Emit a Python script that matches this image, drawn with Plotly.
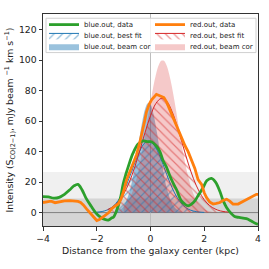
import plotly.graph_objects as go

# ---- data ----
blue_data_x = [-4.0, -3.8, -3.6, -3.4, -3.2, -3.0, -2.85, -2.7, -2.55, -2.4, -2.2, -2.05, -1.9, -1.7, -1.55,
               -1.45, -1.38, -1.28, -1.2, -1.1, -1.02, -0.92, -0.83, -0.65, -0.46, -0.27, -0.1, 0.04, 0.2,
               0.35, 0.47, 0.59, 0.7, 0.78, 0.88, 0.97, 1.06, 1.15, 1.28, 1.4, 1.52, 1.65, 1.8, 1.96, 2.1,
               2.27, 2.42, 2.58, 2.7, 2.83, 3.0, 3.13, 3.3, 3.57, 3.75, 3.9, 4.0]
blue_data_y = [10.5, 10.3, 9.5, 10, 12, 15, 17.5, 18.5, 15, 9.5, 4, 0.2, -2.5, -4.5, -4.8,
               -3.5, -3, 0.5, 4.5, 11, 18.5, 25, 30, 39, 45, 47, 46.5, 46.5, 44,
               40, 34, 30, 25, 21.7, 18, 15, 11, 7.7, 5.5, 4.5, 5.5, 7.7, 12, 16.5, 21,
               22.4, 20, 14, 8, 3.4, -0.5, -2.6, -3.2, -4, -5.5, -7, -7.7]

red_data_x = [-4.0, -3.85, -3.7, -3.55, -3.4, -3.2, -3.0, -2.85, -2.7, -2.6, -2.5, -2.38, -2.2, -2.0, -1.9,
              -1.8, -1.7, -1.55, -1.45, -1.3, -1.2, -1.1, -1.0, -0.9, -0.77, -0.65, -0.52, -0.4, -0.33,
              -0.22, -0.15, -0.05, 0.04, 0.13, 0.22, 0.3, 0.4, 0.5, 0.6, 0.72, 0.85, 0.97, 1.1, 1.28, 1.4,
              1.52, 1.65, 1.77, 1.9, 2.0, 2.08, 2.2, 2.33, 2.45, 2.58, 2.7, 2.83, 2.95, 3.07, 3.26, 3.4,
              3.57, 3.75, 3.94, 4.0]
red_data_y = [6.6, 6.8, 7.5, 6.5, 7.2, 7.7, 7.8, 7.7, 7.3, 6.6, 5, 2.4, -1.5, -5.2, -4.5,
              -3, -2, 0, 2.4, 4.5, 5.6, 8.8, 14, 21, 27, 32, 38, 46, 51,
              60, 66, 71, 74, 76, 77.6, 77, 76.5, 75.5, 72.5, 68, 62, 57, 51, 44, 40,
              34.6, 29, 21.7, 18.5, 13, 10, 7, 5.6, 6, 6.6, 8, 8.8, 7.5, 5.6, 5.6, 7,
              8.8, 10.5, 12, 12]

blue_fit_x = [-2.0, -1.8, -1.6, -1.4, -1.2, -1.0, -0.8, -0.6, -0.4, -0.2, 0.0, 0.2, 0.4, 0.6, 0.8,
              1.0, 1.2, 1.4, 1.6, 1.8, 2.0]
blue_fit_y = [0.3, 0.7, 1.8, 4.0, 8.0, 14.1, 22.4, 31.8, 40.4, 45.9, 46.7, 42.5, 34.6, 25.2, 16.4,
              9.6, 5.0, 2.3, 1.0, 0.4, 0.1]

red_fit_x = [-1.6, -1.4, -1.2, -1.0, -0.8, -0.6, -0.4, -0.2, 0.0, 0.2, 0.4, 0.6, 0.8, 1.0, 1.2,
             1.4, 1.6, 1.8, 2.0, 2.2, 2.4, 2.6, 2.8, 3.0]
red_fit_y = [1.9, 3.8, 7.1, 12.2, 19.5, 29.2, 40.7, 52.7, 63.6, 71.6, 74.9, 73.1, 66.4, 56.2, 44.3,
             32.5, 22.2, 14.2, 8.4, 4.6, 2.4, 1.1, 0.5, 0.2]

blue_beam_x = [-1.4, -1.2, -1.0, -0.8, -0.7, -0.6, -0.5, -0.4, -0.3, -0.2, -0.1, 0.0, 0.1, 0.2, 0.3,
               0.4, 0.5, 0.6, 0.8, 1.0, 1.2]
blue_beam_y = [0.2, 1.1, 4.2, 12.5, 19.5, 28.6, 39.2, 50.3, 60.5, 68.1, 71.8, 70.9, 65.5, 56.7, 45.9,
               34.8, 24.7, 16.4, 6.0, 1.7, 0.4]

red_beam_x = [-1.0, -0.8, -0.6, -0.4, -0.2, -0.1, 0.0, 0.1, 0.2, 0.3, 0.4, 0.5, 0.6, 0.7, 0.8,
              0.9, 1.0, 1.1, 1.2, 1.4, 1.6, 1.8, 2.0, 2.2, 2.4]
red_beam_y = [3.5, 8.3, 17.2, 31.6, 51.0, 61.7, 72.4, 82.3, 90.5, 96.5, 99.6, 99.6, 96.5, 90.5, 82.3,
              72.4, 61.7, 51.0, 40.8, 23.7, 12.1, 5.5, 2.2, 0.8, 0.2]

noise_low = 9.2      # inner grey band
noise_high = 26.6    # outer grey band
x_range = [-4, 4]
y_range = [-8.8, 130.3]
x_ticks = [-4, -2, 0, 2, 4]
y_ticks = [0, 20, 40, 60, 80, 100, 120]

names = ["blue.out, data", "red.out, data", "blue.out, best fit", "red.out, best fit",
         "blue.out, beam cor", "red.out, beam cor"]

C_BLUE = "#1f77b4"
C_RED = "#d62728"
C_GREEN = "#2ca02c"
C_ORANGE = "#ff7f0e"
FONT = "DejaVu Sans"

fig = go.Figure()

# beam-corrected fills
fig.add_trace(go.Scatter(x=blue_beam_x, y=blue_beam_y, mode="lines", fill="tozeroy",
                         line=dict(width=0, color="rgba(31,119,180,0.45)", shape="spline"),
                         fillcolor="rgba(31,119,180,0.45)", name=names[4], legend="legend5"))
fig.add_trace(go.Scatter(x=red_beam_x, y=red_beam_y, mode="lines", fill="tozeroy",
                         line=dict(width=0, color="rgba(214,39,40,0.25)", shape="spline"),
                         fillcolor="rgba(214,39,40,0.25)", name=names[5], legend="legend6"))
# best fits, hatched
fig.add_trace(go.Scatter(x=blue_fit_x, y=blue_fit_y, mode="lines", fill="tozeroy",
                         line=dict(width=1, color=C_BLUE, shape="spline"),
                         fillcolor="rgba(0,0,0,0)",
                         fillpattern=dict(shape="/", fgcolor=C_BLUE, bgcolor="rgba(0,0,0,0)",
                                          size=6, solidity=0.2),
                         name=names[2], legend="legend3"))
fig.add_trace(go.Scatter(x=red_fit_x, y=red_fit_y, mode="lines", fill="tozeroy",
                         line=dict(width=1, color=C_RED, shape="spline"),
                         fillcolor="rgba(0,0,0,0)",
                         fillpattern=dict(shape="\\", fgcolor=C_RED, bgcolor="rgba(0,0,0,0)",
                                          size=6, solidity=0.2),
                         name=names[3], legend="legend4"))
# data
fig.add_trace(go.Scatter(x=blue_data_x, y=blue_data_y, mode="lines",
                         line=dict(width=2.8, color=C_GREEN, shape="spline"),
                         name=names[0], legend="legend"))
fig.add_trace(go.Scatter(x=red_data_x, y=red_data_y, mode="lines",
                         line=dict(width=2.8, color=C_ORANGE),
                         name=names[1], legend="legend2"))

# plot area in px: left 43, right 258, top 10, bottom 226
col_x = [0.0047, 0.4977]
row_y = [0.950, 0.899, 0.848]
leg_common = dict(bgcolor="rgba(0,0,0,0)", borderwidth=0, xanchor="left", yanchor="middle",
                  font=dict(family=FONT, size=7, color="#222"))
layout_legends = {}
keys = ["legend", "legend2", "legend3", "legend4", "legend5", "legend6"]
for i, k in enumerate(keys):
    layout_legends[k] = dict(x=col_x[i % 2], y=row_y[i // 2], **leg_common)

fig.update_layout(
    width=269, height=269,
    margin=dict(l=43, r=11, t=10, b=43),
    paper_bgcolor="white", plot_bgcolor="white",
    font=dict(family=FONT, size=9.3, color="#222"),
    showlegend=True,
    **layout_legends,
    shapes=[
        dict(type="rect", xref="paper", yref="y", x0=0, x1=1, y0=y_range[0], y1=noise_high,
             fillcolor="rgba(128,128,128,0.12)", line=dict(width=0), layer="below"),
        dict(type="rect", xref="paper", yref="y", x0=0, x1=1, y0=y_range[0], y1=noise_low,
             fillcolor="rgba(128,128,128,0.24)", line=dict(width=0), layer="below"),
        dict(type="line", xref="paper", yref="y", x0=0, x1=1, y0=0, y1=0,
             line=dict(color="#808080", width=1), layer="below"),
        dict(type="line", xref="x", yref="paper", x0=0, x1=0, y0=0, y1=1,
             line=dict(color="#bdbdbd", width=1), layer="below"),
        dict(type="rect", xref="paper", yref="paper", x0=0.014, x1=0.9907, y0=0.818, y1=0.980,
             fillcolor="rgba(255,255,255,0.8)", line=dict(color="#d0d0d0", width=1), layer="above"),
    ],
)

fig.update_xaxes(range=x_range, tickvals=x_ticks, showgrid=False, zeroline=False,
                 showline=True, mirror=True, linecolor="#333", linewidth=1, automargin=False,
                 ticks="outside", ticklen=3.5, tickcolor="#333",
                 title=dict(text="Distance from the galaxy center (kpc)", standoff=4,
                            font=dict(size=9.3)))
fig.update_yaxes(range=y_range, tickvals=y_ticks, showgrid=False, zeroline=False,
                 showline=True, mirror=True, linecolor="#333", linewidth=1, automargin=False,
                 ticks="outside", ticklen=3.5, tickcolor="#333",
                 title=dict(text="Intensity (S<sub>CO(2−1)</sub>, mJy beam <sup>−1</sup> km s<sup>−1</sup>)",
                            standoff=3, font=dict(size=9.3)))

fig.write_html("out.html",
               config={"displayModeBar": False},
               post_script="document.body.style.margin='0';document.body.style.overflow='hidden';")
